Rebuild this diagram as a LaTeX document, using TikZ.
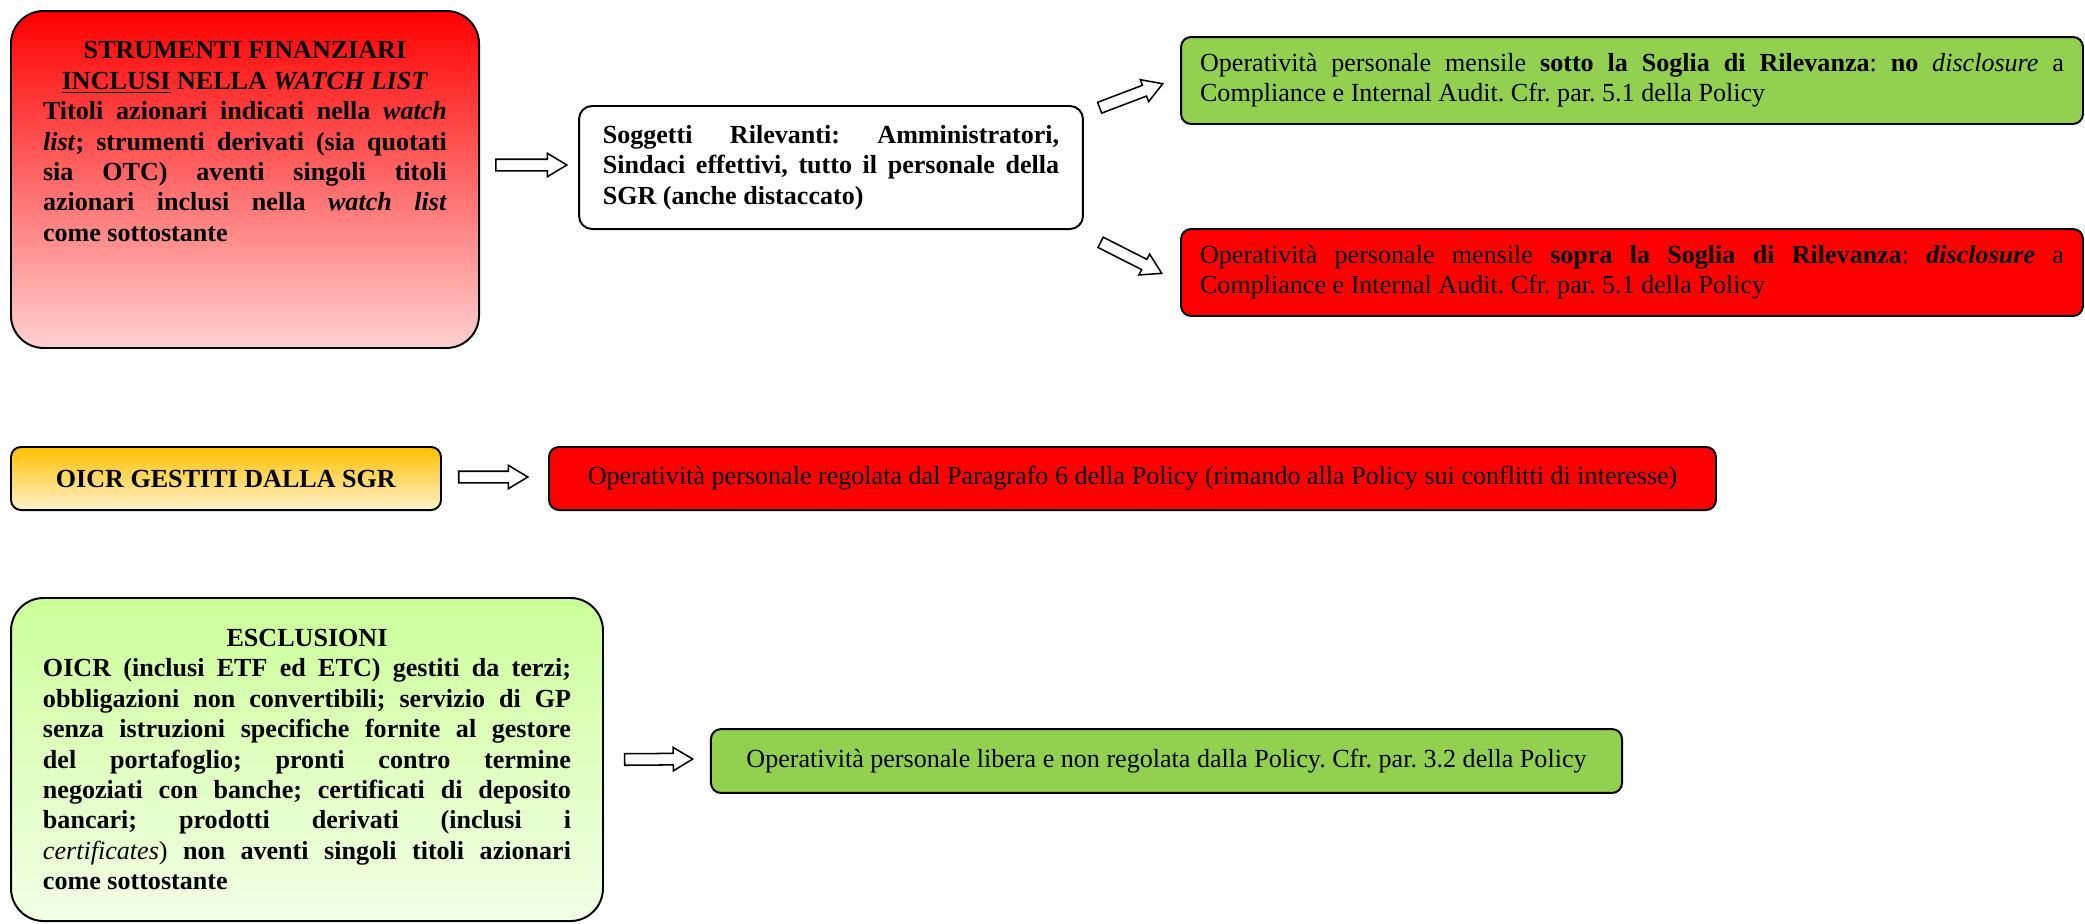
\documentclass[tikz,border=0pt]{standalone}
\usepackage{fontspec}
\setmainfont{Liberation Serif}
\usepackage{xcolor}
\usetikzlibrary{shapes.arrows,calc}

\definecolor{rosso}{RGB}{255,0,0}
\definecolor{verde}{RGB}{146,208,80}
\definecolor{wltop}{RGB}{255,0,0}
\definecolor{wlbot}{RGB}{255,208,208}
\definecolor{gesttop}{RGB}{255,192,0}
\definecolor{gestbot}{RGB}{255,242,204}
\definecolor{escltop}{RGB}{204,255,153}
\definecolor{esclbot}{RGB}{242,255,230}
\hyphenpenalty=10000
\exhyphenpenalty=10000
\frenchspacing

\begin{document}
\begin{tikzpicture}[x=0.46pt,y=0.46pt,yscale=-1,xscale=1,
  font=\fontsize{12}{14}\selectfont,
  box/.style={draw, line width=0.9pt, rounded corners=4.6pt, inner sep=0pt},
  hollowarrow/.style={single arrow, draw, line width=0.7pt, fill=white, inner xsep=0pt, inner ysep=2.3pt,
    minimum width=10.1pt, single arrow head extend=2.75pt, single arrow tip angle=62},
  blockarrow/.style={to path={let \p1=(\tikztostart), \p2=(\tikztotarget),
    \n1={atan2(\y2-\y1,\x2-\x1)}, \n2={veclen(\x2-\x1,\y2-\y1)} in
    (\tikztostart) node[hollowarrow, anchor=tail, rotate={-\n1}, minimum height=\n2] {}}}]
\useasboundingbox (0,0) rectangle (2085,923);

%Rounded Rect: watch list
\node[box, rounded corners=15pt, top color=wltop, bottom color=wlbot, minimum width=215.3pt, minimum height=155pt] (wl) at (245,179.5)
  {\parbox[c][127pt][t]{185.8pt}{{\centering\bfseries STRUMENTI FINANZIARI\\ \underline{INCLUSI} NELLA \textit{WATCH LIST}\par}
  \bfseries Titoli azionari indicati nella \textit{watch}\linebreak \textit{list}; strumenti derivati (sia quotati\linebreak sia OTC) aventi singoli titoli\linebreak azionari inclusi nella \textit{watch list}\linebreak come sottostante}};
%Rounded Rect: soggetti rilevanti
\node[box, rounded corners=6pt, fill=white, minimum width=231.8pt, minimum height=56.6pt, text width=210pt, align=justify] (sogg) at (831,167.5)
  {\bfseries Soggetti Rilevanti: Amministratori,\linebreak Sindaci effettivi, tutto il personale della\linebreak SGR (anche distaccato)};
%Rounded Rect: sotto soglia
\node[box, fill=verde, minimum width=414.9pt, minimum height=40pt, text width=397.4pt, align=justify] (sotto) at (1632,80.5)
  {Operatività personale mensile \textbf{sotto la Soglia di Rilevanza}: \textbf{no} \textit{disclosure} a\linebreak Compliance e Internal Audit. Cfr. par. 5.1 della Policy};
%Rounded Rect: sopra soglia
\node[box, fill=rosso, minimum width=414.9pt, minimum height=40pt, text width=397.4pt, align=justify] (sopra) at (1632,272.5)
  {Operatività personale mensile \textbf{sopra la Soglia di Rilevanza}: \textbf{\textit{disclosure}} a\linebreak Compliance e Internal Audit. Cfr. par. 5.1 della Policy};

%Rounded Rect: OICR gestiti
\node[box, top color=gesttop, bottom color=gestbot, minimum width=197.8pt, minimum height=29pt] (gest) at (226,478.5)
  {\textbf{OICR GESTITI DALLA SGR}};
%Rounded Rect: paragrafo 6
\node[box, fill=rosso, minimum width=536.8pt, minimum height=29pt] (reg) at (1132.5,478.5)
  {Operatività personale regolata dal Paragrafo 6 della Policy (rimando alla Policy sui conflitti di interesse)};

%Rounded Rect: esclusioni
\node[box, rounded corners=15pt, top color=escltop, bottom color=esclbot, minimum width=272.3pt, minimum height=148.6pt, text width=242.9pt, align=justify] (escl) at (307,759.5)
  {{\centering\bfseries ESCLUSIONI\par}
  \bfseries OICR (inclusi ETF ed ETC) gestiti da terzi;\linebreak obbligazioni non convertibili; servizio di GP\linebreak senza istruzioni specifiche fornite al gestore\linebreak del portafoglio; pronti contro termine\linebreak negoziati con banche; certificati di deposito\linebreak bancari; prodotti derivati (inclusi i\linebreak {\mdseries\itshape certificates}{\mdseries)} non aventi singoli titoli azionari\linebreak come sottostante};
%Rounded Rect: libera
\node[box, fill=verde, minimum width=419.1pt, minimum height=29.4pt] (libera) at (1166.5,761)
  {Operatività personale libera e non regolata dalla Policy. Cfr. par. 3.2 della Policy};

%Block Arrows
\path ($(sogg.west)+(-83,-2.5)$) to[blockarrow] ($(sogg.west)+(-12,-2.5)$);
\path ($(sogg.east)+(15,-59.5)$) to[blockarrow] ($(sotto.west)+(-18,3.5)$);
\path ($(sogg.east)+(16,74.5)$) to[blockarrow] ($(sopra.west)+(-19,0.5)$);
\path ($(gest.east)+(16,-1.5)$) to[blockarrow] ($(reg.west)+(-21,-1.5)$);
\path ($(escl.east)+(20,0)$) to[blockarrow] ($(libera.west)+(-18,-2)$);

\end{tikzpicture}
\end{document}
